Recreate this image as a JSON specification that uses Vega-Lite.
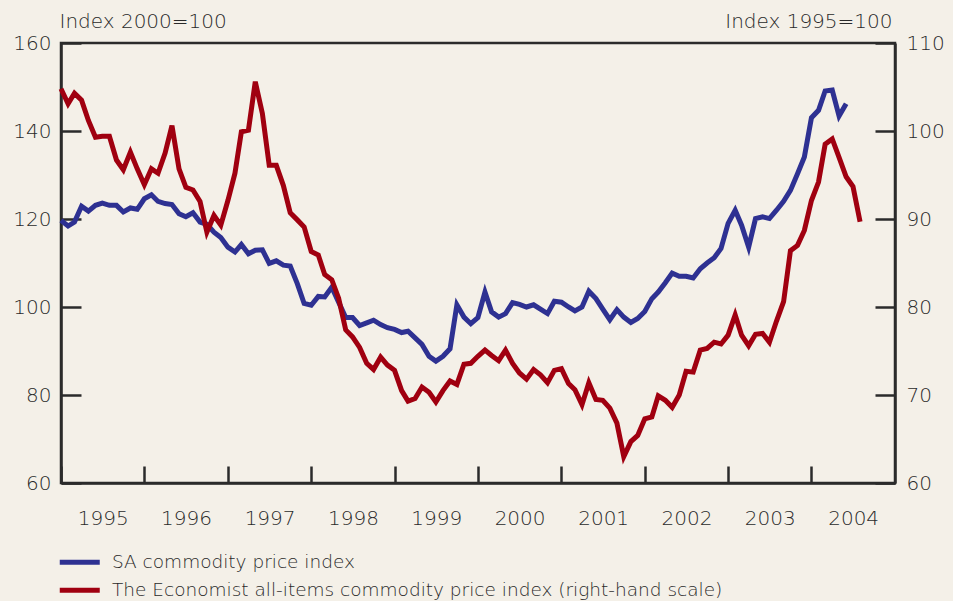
{
  "$schema": "https://vega.github.io/schema/vega-lite/v6.json",
  "width": 834,
  "height": 440,
  "autosize": "none",
  "padding": {"left": 61, "top": 43, "right": 58, "bottom": 118},
  "background": "#f4f0e8",
  "data": {"values": [
    {"date":"1995-01-01","sa":119.7,"econ":104.8},
    {"date":"1995-02-01","sa":118.4,"econ":103.1},
    {"date":"1995-03-01","sa":119.3,"econ":104.3},
    {"date":"1995-04-01","sa":122.9,"econ":103.5},
    {"date":"1995-05-01","sa":121.8,"econ":101.2},
    {"date":"1995-06-01","sa":123.1,"econ":99.3},
    {"date":"1995-07-01","sa":123.6,"econ":99.4},
    {"date":"1995-08-01","sa":123.1,"econ":99.4},
    {"date":"1995-09-01","sa":123.1,"econ":96.7},
    {"date":"1995-10-01","sa":121.6,"econ":95.6},
    {"date":"1995-11-01","sa":122.5,"econ":97.6},
    {"date":"1995-12-01","sa":122.2,"econ":95.7},
    {"date":"1996-01-01","sa":124.6,"econ":93.9},
    {"date":"1996-02-01","sa":125.5,"econ":95.7},
    {"date":"1996-03-01","sa":124.0,"econ":95.2},
    {"date":"1996-04-01","sa":123.5,"econ":97.5},
    {"date":"1996-05-01","sa":123.3,"econ":100.6},
    {"date":"1996-06-01","sa":121.2,"econ":95.7},
    {"date":"1996-07-01","sa":120.5,"econ":93.6},
    {"date":"1996-08-01","sa":121.4,"econ":93.3},
    {"date":"1996-09-01","sa":119.3,"econ":92.0},
    {"date":"1996-10-01","sa":118.8,"econ":88.5},
    {"date":"1996-11-01","sa":117.0,"econ":90.4},
    {"date":"1996-12-01","sa":115.8,"econ":89.3},
    {"date":"1997-01-01","sa":113.6,"econ":92.1},
    {"date":"1997-02-01","sa":112.5,"econ":95.2},
    {"date":"1997-03-01","sa":114.2,"econ":99.9},
    {"date":"1997-04-01","sa":112.1,"econ":100.1},
    {"date":"1997-05-01","sa":112.9,"econ":105.6},
    {"date":"1997-06-01","sa":113.0,"econ":102.0},
    {"date":"1997-07-01","sa":109.9,"econ":96.1},
    {"date":"1997-08-01","sa":110.5,"econ":96.1},
    {"date":"1997-09-01","sa":109.5,"econ":93.8},
    {"date":"1997-10-01","sa":109.3,"econ":90.7},
    {"date":"1997-11-01","sa":105.3,"econ":89.9},
    {"date":"1997-12-01","sa":100.8,"econ":89.1},
    {"date":"1998-01-01","sa":100.4,"econ":86.3},
    {"date":"1998-02-01","sa":102.4,"econ":85.9},
    {"date":"1998-03-01","sa":102.3,"econ":83.7},
    {"date":"1998-04-01","sa":104.5,"econ":83.1},
    {"date":"1998-05-01","sa":101.1,"econ":81.0},
    {"date":"1998-06-01","sa":97.6,"econ":77.4},
    {"date":"1998-07-01","sa":97.6,"econ":76.6},
    {"date":"1998-08-01","sa":95.8,"econ":75.4},
    {"date":"1998-09-01","sa":96.4,"econ":73.6},
    {"date":"1998-10-01","sa":97.0,"econ":72.9},
    {"date":"1998-11-01","sa":96.0,"econ":74.3},
    {"date":"1998-12-01","sa":95.3,"econ":73.4},
    {"date":"1999-01-01","sa":94.9,"econ":72.8},
    {"date":"1999-02-01","sa":94.2,"econ":70.5},
    {"date":"1999-03-01","sa":94.5,"econ":69.3},
    {"date":"1999-04-01","sa":93.0,"econ":69.6},
    {"date":"1999-05-01","sa":91.5,"econ":70.9},
    {"date":"1999-06-01","sa":88.8,"econ":70.3},
    {"date":"1999-07-01","sa":87.7,"econ":69.2},
    {"date":"1999-08-01","sa":88.8,"econ":70.5},
    {"date":"1999-09-01","sa":90.5,"econ":71.6},
    {"date":"1999-10-01","sa":100.5,"econ":71.2},
    {"date":"1999-11-01","sa":97.7,"econ":73.5},
    {"date":"1999-12-01","sa":96.2,"econ":73.6},
    {"date":"2000-01-01","sa":97.6,"econ":74.4},
    {"date":"2000-02-01","sa":103.4,"econ":75.1},
    {"date":"2000-03-01","sa":98.9,"econ":74.5},
    {"date":"2000-04-01","sa":97.7,"econ":73.9},
    {"date":"2000-05-01","sa":98.5,"econ":75.1},
    {"date":"2000-06-01","sa":101.0,"econ":73.6},
    {"date":"2000-07-01","sa":100.6,"econ":72.5},
    {"date":"2000-08-01","sa":100.0,"econ":71.8},
    {"date":"2000-09-01","sa":100.5,"econ":72.9},
    {"date":"2000-10-01","sa":99.5,"econ":72.3},
    {"date":"2000-11-01","sa":98.5,"econ":71.4},
    {"date":"2000-12-01","sa":101.3,"econ":72.8},
    {"date":"2001-01-01","sa":101.1,"econ":73.0},
    {"date":"2001-02-01","sa":100.0,"econ":71.3},
    {"date":"2001-03-01","sa":99.1,"econ":70.6},
    {"date":"2001-04-01","sa":100.0,"econ":68.9},
    {"date":"2001-05-01","sa":103.6,"econ":71.4},
    {"date":"2001-06-01","sa":101.9,"econ":69.5},
    {"date":"2001-07-01","sa":99.5,"econ":69.4},
    {"date":"2001-08-01","sa":97.1,"econ":68.5},
    {"date":"2001-09-01","sa":99.4,"econ":66.8},
    {"date":"2001-10-01","sa":97.7,"econ":63.0},
    {"date":"2001-11-01","sa":96.5,"econ":64.7},
    {"date":"2001-12-01","sa":97.4,"econ":65.4},
    {"date":"2002-01-01","sa":99.0,"econ":67.3},
    {"date":"2002-02-01","sa":101.9,"econ":67.5},
    {"date":"2002-03-01","sa":103.4,"econ":69.9},
    {"date":"2002-04-01","sa":105.5,"econ":69.4},
    {"date":"2002-05-01","sa":107.7,"econ":68.6},
    {"date":"2002-06-01","sa":107.0,"econ":70.0},
    {"date":"2002-07-01","sa":107.0,"econ":72.7},
    {"date":"2002-08-01","sa":106.6,"econ":72.6},
    {"date":"2002-09-01","sa":108.7,"econ":75.1},
    {"date":"2002-10-01","sa":110.0,"econ":75.3},
    {"date":"2002-11-01","sa":111.2,"econ":76.0},
    {"date":"2002-12-01","sa":113.3,"econ":75.8},
    {"date":"2003-01-01","sa":119.0,"econ":76.8},
    {"date":"2003-02-01","sa":122.0,"econ":79.1},
    {"date":"2003-03-01","sa":118.6,"econ":76.8},
    {"date":"2003-04-01","sa":113.6,"econ":75.6},
    {"date":"2003-05-01","sa":120.1,"econ":76.9},
    {"date":"2003-06-01","sa":120.5,"econ":77.0},
    {"date":"2003-07-01","sa":120.1,"econ":76.0},
    {"date":"2003-08-01","sa":122.0,"econ":78.4},
    {"date":"2003-09-01","sa":124.0,"econ":80.6},
    {"date":"2003-10-01","sa":126.5,"econ":86.4},
    {"date":"2003-11-01","sa":130.3,"econ":87.0},
    {"date":"2003-12-01","sa":134.1,"econ":88.7},
    {"date":"2004-01-01","sa":143.0,"econ":92.1},
    {"date":"2004-02-01","sa":144.7,"econ":94.2},
    {"date":"2004-03-01","sa":149.1,"econ":98.5},
    {"date":"2004-04-01","sa":149.3,"econ":99.1},
    {"date":"2004-05-01","sa":143.4,"econ":97.0},
    {"date":"2004-06-01","sa":146.2,"econ":94.8},
    {"date":"2004-07-01","sa":null,"econ":93.7},
    {"date":"2004-08-01","sa":null,"econ":89.7}
  ]},
  "encoding": {
    "x": {
      "field": "date",
      "type": "temporal",
      "title": null,
      "scale": {"domain": [{"year":1995,"month":1,"date":1},{"year":2005,"month":1,"date":1}], "nice": false},
      "axis": {
        "values": [{"year":1995,"month":1,"date":1},{"year":1996,"month":1,"date":1},{"year":1997,"month":1,"date":1},{"year":1998,"month":1,"date":1},{"year":1999,"month":1,"date":1},{"year":2000,"month":1,"date":1},{"year":2001,"month":1,"date":1},{"year":2002,"month":1,"date":1},{"year":2003,"month":1,"date":1},{"year":2004,"month":1,"date":1}],
        "format": "%Y",
        "tickSize": -17,
        "labelPadding": 42,
        "labelOffset": 41.7,
        "labelFlush": false,
        "labelOverlap": false,
        "grid": false
      }
    }
  },
  "layer": [
    {
      "mark": {"type": "line", "strokeWidth": 5, "strokeJoin": "miter"},
      "encoding": {
        "y": {
          "field": "sa",
          "type": "quantitative",
          "scale": {"domain": [60, 160], "nice": false, "zero": false},
          "axis": {
            "orient": "left",
            "values": [60, 80, 100, 120, 140, 160],
            "tickSize": -20,
            "labelPadding": 30,
            "grid": false,
            "title": "Index 2000=100",
            "titleAngle": 0,
            "titleAlign": "left",
            "titleBaseline": "alphabetic",
            "titleX": -2,
            "titleY": -16
          }
        },
        "color": {
          "datum": "SA commodity price index",
          "type": "nominal",
          "scale": {
            "domain": ["SA commodity price index", "The Economist all-items commodity price index (right-hand scale)"],
            "range": ["#2e3192", "#a00010"]
          },
          "legend": {
            "title": null,
            "orient": "none",
            "legendX": 9.5,
            "legendY": 510,
            "direction": "vertical",
            "symbolType": "M-4,0H4",
            "symbolSize": 100,
            "symbolStrokeWidth": 5,
            "labelOffset": 23,
            "rowPadding": 7,
            "padding": 0,
            "labelFont": "DejaVu Sans",
            "labelFontSize": 18.5,
            "labelColor": "#2a2a2a",
            "labelLimit": 800
          }
        }
      }
    },
    {
      "mark": {"type": "line", "strokeWidth": 5, "strokeJoin": "miter"},
      "encoding": {
        "y": {
          "field": "econ",
          "type": "quantitative",
          "scale": {"domain": [60, 110], "nice": false, "zero": false},
          "axis": {
            "orient": "right",
            "values": [60, 70, 80, 90, 100, 110],
            "tickSize": -20,
            "labelPadding": 31,
            "grid": false,
            "title": "Index 1995=100",
            "titleAngle": 0,
            "titleAlign": "right",
            "titleBaseline": "alphabetic",
            "titleX": -3,
            "titleY": -16
          }
        },
        "color": {"datum": "The Economist all-items commodity price index (right-hand scale)", "type": "nominal"}
      }
    }
  ],
  "resolve": {"scale": {"y": "independent"}, "axis": {"y": "independent"}},
  "config": {
    "view": {"stroke": "#2b2b2b", "strokeWidth": 2.5},
    "axis": {
      "domainColor": "#2b2b2b",
      "domainWidth": 2.5,
      "tickColor": "#2b2b2b",
      "tickWidth": 2.5,
      "labelFont": "DejaVu Sans",
      "labelFontSize": 20,
      "labelFontWeight": 300,
      "labelColor": "#2a2a2a",
      "titleFont": "DejaVu Sans",
      "titleFontSize": 20,
      "titleFontWeight": 300,
      "titleColor": "#2a2a2a"
    },
    "legend": {"labelFontWeight": 300}
  }
}
